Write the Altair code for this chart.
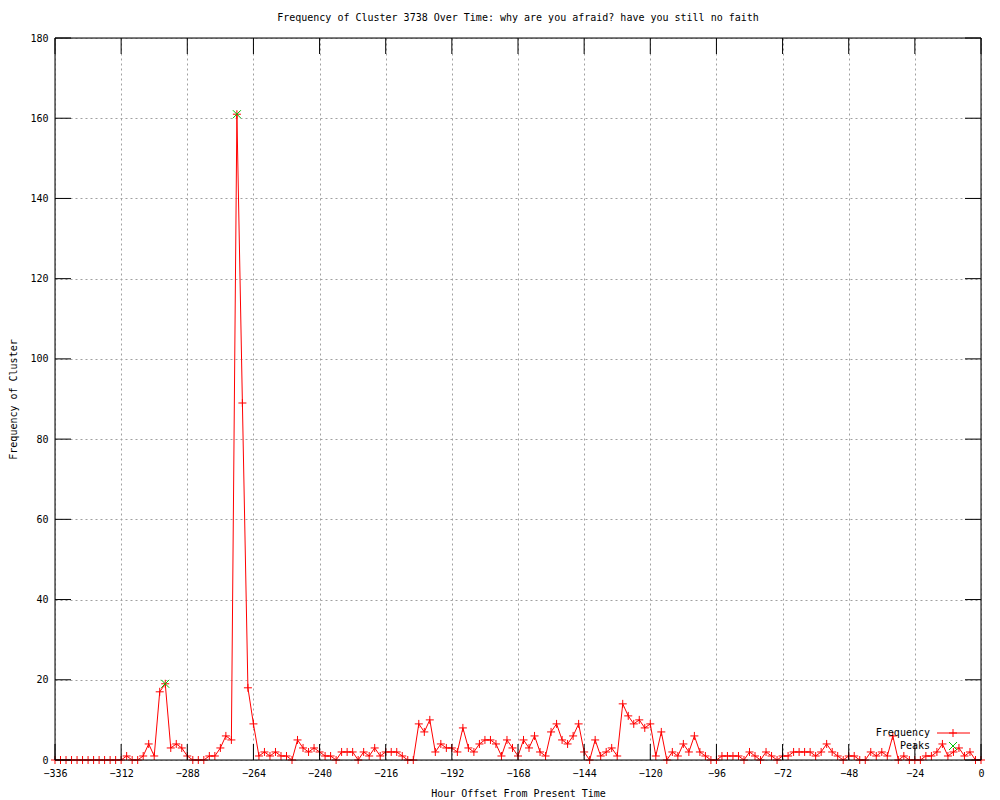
import altair as alt
import pandas as pd

# ---- data (2-hour bins from -336 to 0) ----
hours = list(range(-336, 1, 2))
freq = [
    0, 0, 0, 0, 0, 0, 0, 0, 0, 0, 0, 0,
    0, 1, 0, 0, 1, 4, 1, 17, 19, 3, 4, 3,
    1, 0, 0, 0, 1, 1, 3, 6, 5, 161, 89, 18,
    9, 1, 2, 1, 2, 1, 1, 0, 5, 3, 2, 3,
    2, 1, 1, 0, 2, 2, 2, 0, 2, 1, 3, 1,
    2, 2, 2, 1, 0, 0, 9, 7, 10, 2, 4, 3,
    3, 2, 8, 3, 2, 4, 5, 5, 4, 1, 5, 3,
    1, 5, 3, 6, 2, 1, 7, 9, 5, 4, 6, 9,
    2, 0, 5, 1, 2, 3, 1, 14, 11, 9, 10, 8,
    9, 1, 7, 0, 2, 1, 4, 2, 6, 2, 1, 0,
    0, 1, 1, 1, 1, 0, 2, 1, 0, 2, 1, 0,
    1, 1, 2, 2, 2, 2, 1, 2, 4, 2, 1, 0,
    1, 1, 0, 0, 2, 1, 2, 1, 6, 0, 1, 0,
    0, 0, 1, 1, 2, 4, 1, 2, 3, 1, 2, 0,
    0,
]
assert len(hours) == len(freq)

peak_hours = [-296, -270]
peak_values = [19, 161]

x_ticks = list(range(-336, 1, 24))
y_ticks = list(range(0, 181, 20))

title_text = "Frequency of Cluster 3738 Over Time: why are you afraid? have you still no faith"
x_title = "Hour Offset From Present Time"
y_title = "Frequency of Cluster"
legend_labels = ["Frequency", "Peaks"]

# ---- layout constants ----
W, H = 926, 722
FONT = "DejaVu Sans Mono"
RED = "#ff0000"
GREEN = "#00c000"
PLUS = "M-1,0L1,0M0,-1L0,1"
XSHAPE = "M-1,-1L1,1M-1,1L1,-1"
TICK = 16

df = pd.DataFrame({"hour": hours, "freq": freq})
peaks = pd.DataFrame({"hour": peak_hours, "freq": peak_values})
xt = pd.DataFrame({"t": x_ticks})
yt = pd.DataFrame({"t": y_ticks})

xscale = alt.Scale(domain=[-336, 0], nice=False, zero=False)
yscale = alt.Scale(domain=[0, 180], nice=False)

x_axis = alt.Axis(
    values=x_ticks, format="d", title=x_title, grid=True, gridDash=[2, 3],
    gridColor="#a0a0a0", gridWidth=1, ticks=False, domain=False,
    labelFont=FONT, labelFontSize=10, labelColor="black", labelPadding=8,
    labelBaseline="top", labelFlush=False,
    titleFont=FONT, titleFontSize=10, titleFontWeight="normal", titleColor="black",
    titleX=W / 2, titleY=33, titleBaseline="middle", titleAlign="center",
)
y_axis = alt.Axis(
    values=y_ticks, format="d", title=y_title, grid=True, gridDash=[2, 3],
    gridColor="#a0a0a0", gridWidth=1, ticks=False, domain=False,
    labelFont=FONT, labelFontSize=10, labelColor="black", labelPadding=7,
    labelFlush=False,
    titleFont=FONT, titleFontSize=10, titleFontWeight="normal", titleColor="black",
    titleX=-42, titleY=H / 2, titleAngle=270, titleBaseline="middle", titleAlign="center",
)

base = alt.Chart(df)
line = base.mark_line(color=RED, strokeWidth=1).encode(
    x=alt.X("hour:Q", scale=xscale, axis=x_axis),
    y=alt.Y("freq:Q", scale=yscale, axis=y_axis),
)
pts = base.mark_point(shape=PLUS, color=RED, strokeWidth=1, size=64, filled=False, opacity=1).encode(
    x="hour:Q", y="freq:Q"
)
pk = alt.Chart(peaks).mark_point(shape=XSHAPE, color=GREEN, strokeWidth=1, size=64, filled=False, opacity=1).encode(
    x="hour:Q", y="freq:Q"
)

# inward ticks on all four sides
xt_bot = alt.Chart(xt).mark_rule(color="black", strokeWidth=1).encode(
    x="t:Q", y=alt.value(H), y2=alt.value(H - TICK))
xt_top = alt.Chart(xt).mark_rule(color="black", strokeWidth=1).encode(
    x="t:Q", y=alt.value(0), y2=alt.value(TICK))
yt_left = alt.Chart(yt).mark_rule(color="black", strokeWidth=1).encode(
    y="t:Q", x=alt.value(0), x2=alt.value(TICK))
yt_right = alt.Chart(yt).mark_rule(color="black", strokeWidth=1).encode(
    y="t:Q", x=alt.value(W - TICK), x2=alt.value(W))

# border
one = pd.DataFrame({"b": [0]})
b_top = alt.Chart(one).mark_rule(color="black", strokeWidth=1).encode(
    x=alt.value(0), x2=alt.value(W), y=alt.value(0))
b_bot = alt.Chart(one).mark_rule(color="black", strokeWidth=1).encode(
    x=alt.value(0), x2=alt.value(W), y=alt.value(H))
b_left = alt.Chart(one).mark_rule(color="black", strokeWidth=1).encode(
    x=alt.value(0), y=alt.value(0), y2=alt.value(H))
b_right = alt.Chart(one).mark_rule(color="black", strokeWidth=1).encode(
    x=alt.value(W), y=alt.value(0), y2=alt.value(H))

# chart title as text
title = alt.Chart(pd.DataFrame({"t": [title_text]})).mark_text(
    align="center", baseline="middle", font=FONT, fontSize=10, color="black").encode(
    x=alt.value(W / 2), y=alt.value(-20), text="t:N")

# legend (gnuplot style: label left, sample right)
leg_f = alt.Chart(pd.DataFrame({"t": [legend_labels[0]]})).mark_text(
    align="right", baseline="middle", font=FONT, fontSize=10, color="black").encode(
    x=alt.value(875), y=alt.value(695), text="t:N")
leg_p = alt.Chart(pd.DataFrame({"t": [legend_labels[1]]})).mark_text(
    align="right", baseline="middle", font=FONT, fontSize=10, color="black").encode(
    x=alt.value(875), y=alt.value(708), text="t:N")
leg_line = alt.Chart(one).mark_rule(color=RED, strokeWidth=1).encode(
    x=alt.value(882), x2=alt.value(915), y=alt.value(695))
leg_plus = alt.Chart(one).mark_point(shape=PLUS, color=RED, strokeWidth=1, size=64, filled=False, opacity=1).encode(
    x=alt.value(898), y=alt.value(695))
leg_x = alt.Chart(one).mark_point(shape=XSHAPE, color=GREEN, strokeWidth=1, size=64, filled=False, opacity=1).encode(
    x=alt.value(898), y=alt.value(708))

chart = alt.layer(
    line, pts, pk,
    xt_bot, xt_top, yt_left, yt_right,
    b_top, b_bot, b_left, b_right,
    title,
    leg_f, leg_p, leg_line, leg_plus, leg_x,
).properties(
    width=W, height=H,
    autosize=alt.AutoSizeParams(type="none"),
    padding={"left": 47, "top": 30, "right": 11, "bottom": 46},
).configure_view(stroke=None).configure(background="white")

chart.save("out.html", embed_options={"renderer": "svg", "actions": False})
